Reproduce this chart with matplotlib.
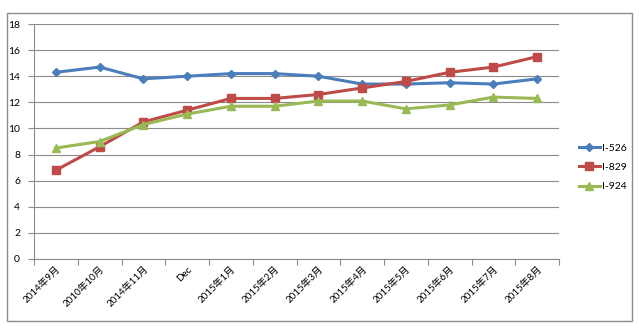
import matplotlib
matplotlib.use("Agg")
import matplotlib.pyplot as plt
from matplotlib.patches import Rectangle
import numpy as np

plt.rcParams['font.family'] = ['Lato', 'Noto Sans CJK SC', 'DejaVu Sans']

months = ['2014年9月', '2010年10月', '2014年11月', 'Dec', '2015年1月', '2015年2月',
          '2015年3月', '2015年4月', '2015年5月', '2015年6月', '2015年7月', '2015年8月']
i526 = [14.3, 14.7, 13.8, 14.0, 14.2, 14.2, 14.0, 13.4, 13.4, 13.5, 13.4, 13.8]
i829 = [6.8, 8.6, 10.5, 11.4, 12.3, 12.3, 12.6, 13.1, 13.6, 14.3, 14.7, 15.5]
i924 = [8.5, 9.0, 10.3, 11.1, 11.7, 11.7, 12.1, 12.1, 11.5, 11.8, 12.4, 12.3]

fig = plt.figure(figsize=(6.39, 3.32), dpi=100)
ax = fig.add_axes([34 / 639, 1 - 259 / 332, 525 / 639, 235 / 332])

# outer chart border
fig.patches.append(Rectangle((7 / 639, 1 - 321 / 332), 625 / 639, 308 / 332,
                             transform=fig.transFigure, fill=False,
                             edgecolor='#8c8c8c', linewidth=1))

x = np.arange(len(months)) + 0.5
ax.plot(x, i526, color='#4A7EBB', marker='D', markersize=4, linewidth=2.2, label='I-526')
ax.plot(x, i829, color='#BE4B48', marker='s', markersize=5.5, linewidth=2.2, label='I-829')
ax.plot(x, i924, color='#98B954', marker='^', markersize=6, linewidth=2.2, label='I-924')

ax.set_xlim(0, len(months))
ax.set_ylim(0, 18)
ax.set_yticks(range(0, 19, 2))
ax.yaxis.grid(True, color='#8c8c8c', linewidth=0.8)
ax.set_axisbelow(True)

ax.set_xticks(np.arange(len(months) + 1))
ax.set_xticklabels([])
ax.set_xticks(x, minor=True)
ax.set_xticklabels(months, minor=True, rotation=45, ha='right', rotation_mode='anchor',
                   fontsize=7)
ax.tick_params(axis='x', which='minor', length=0, pad=4)
ax.tick_params(axis='x', which='major', length=4, color='#8c8c8c')
ax.tick_params(axis='y', length=4, color='#8c8c8c', labelsize=7.5, pad=6)

for s in ['top', 'right']:
    ax.spines[s].set_visible(False)
for s in ['left', 'bottom']:
    ax.spines[s].set_color('#8c8c8c')

ax.legend(loc='center left', bbox_to_anchor=(1.02, 0.39), frameon=False,
          fontsize=7.5, handlelength=2.0, labelspacing=0.95, handletextpad=0.2)

fig.savefig('out.png', dpi=100)
